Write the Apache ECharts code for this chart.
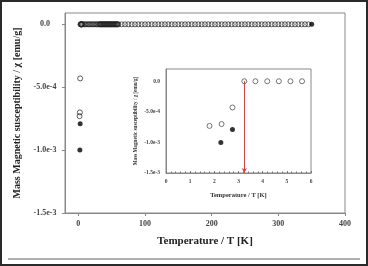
<!DOCTYPE html>
<html><head><meta charset="utf-8">
<script src="https://cdn.jsdelivr.net/npm/echarts@6/dist/echarts.min.js"></script>
<style>html,body{margin:0;padding:0;background:#fff}#c{width:368px;height:266px}</style>
</head><body><div id="c"></div>
<script>
// Low-temperature data (open circles = one run, filled = other run)
const lowTempsOpen = [1.8, 2.3, 2.75, 3.24, 3.7, 4.19, 4.67, 5.15, 5.63];
const lowChiOpen   = [-7.3e-4, -7.0e-4, -4.3e-4, 0, 0, 0, 0, 0, 0];
const filledTemps  = [2.27, 2.75, 350];
const filledChi    = [-1.0e-3, -7.9e-4, 0];
// High-temperature open circles (all at ~0)
const highTemps = [7, 9, 11, 13, 15, 17, 19, 21, 23, 25, 27, 29,
  31, 32, 33, 34, 35, 36, 37, 38, 39, 40, 41, 42, 43, 44, 45, 46, 47, 48, 49, 50,
  51, 52, 53, 54, 55, 56, 57, 58, 59, 60,
  65, 70, 75, 80, 85, 90, 95, 100, 105, 110, 115, 120, 125, 130, 135, 140, 145, 150,
  155, 160, 165, 170, 175, 180, 185, 190, 195, 200, 205, 210, 215, 220, 225, 230, 235,
  240, 245, 250, 255, 260, 265, 270, 275, 280, 285, 290, 295, 300, 305, 310, 315, 320,
  325, 330, 335, 340, 345];
const highChi = [0, 0, 0, 0, 0, 0, 0, 0, 0, 0, 0, 0,
  0, 0, 0, 0, 0, 0, 0, 0, 0, 0, 0, 0, 0, 0, 0, 0, 0, 0, 0, 0,
  0, 0, 0, 0, 0, 0, 0, 0, 0, 0,
  0, 0, 0, 0, 0, 0, 0, 0, 0, 0, 0, 0, 0, 0, 0, 0, 0, 0,
  0, 0, 0, 0, 0, 0, 0, 0, 0, 0, 0, 0, 0, 0, 0, 0, 0,
  0, 0, 0, 0, 0, 0, 0, 0, 0, 0, 0, 0, 0, 0, 0, 0, 0, 0,
  0, 0, 0, 0, 0];
const transitionTemp = 3.24;
const mainXTicks = [0, 100, 200, 300, 400];
const yTicks = [0, -5e-4, -1e-3, -1.5e-3];
const yTickLabels = ['0.0', '-5.0e-4', '-1.0e-3', '-1.5e-3'];
const yLabel = 'Mass Magnetic susceptibility / \u03c7 [emu/g]';
const xLabel = 'Temperature / T [K]';

const pairs = (xs, ys) => xs.map((x, i) => [x, ys[i]]);
const yFmt = v => { const i = yTicks.findIndex(t => Math.abs(t - v) < 1e-9); return i >= 0 ? yTickLabels[i] : ''; };
const FONT = 'Liberation Serif';

const chart = echarts.init(document.getElementById('c'), null, {renderer: 'canvas'});
chart.setOption({
  animation: false,
  backgroundColor: '#fff',
  graphic: [
    {type: 'rect', shape: {x: 1, y: 1, width: 366, height: 264}, style: {fill: 'none', stroke: '#2a2a2a', lineWidth: 2}, z: 100},
    {type: 'rect', shape: {x: 8, y: 258, width: 352, height: 2}, style: {fill: '#b0b0b0'}, z: 100}
  ],
  grid: [
    {left: 65, top: 13, right: 23, bottom: 53, show: true, borderColor: '#888', borderWidth: 1, backgroundColor: '#fff'},
    {left: 166, top: 69, right: 57, bottom: 93, show: true, borderColor: '#888', borderWidth: 1, backgroundColor: '#fff', z: 5}
  ],
  xAxis: [
    {gridIndex: 0, type: 'value', min: -20, max: 400, splitLine: {show: false},
     name: xLabel, nameLocation: 'middle', nameGap: 23,
     nameTextStyle: {fontFamily: FONT, fontWeight: 'bold', fontSize: 11, color: '#222'},
     axisLine: {show: true, onZero: false, lineStyle: {color: '#888'}},
     axisTick: {show: true, length: 3, customValues: mainXTicks, lineStyle: {color: '#888'}},
     axisLabel: {customValues: mainXTicks, fontFamily: FONT, fontWeight: 'bold', fontSize: 8, color: '#444', margin: 7}},
    {gridIndex: 1, type: 'value', min: 0, max: 6, interval: 1, splitLine: {show: false}, z: 6,
     name: xLabel, nameLocation: 'middle', nameGap: 19,
     nameTextStyle: {fontFamily: FONT, fontWeight: 'bold', fontSize: 6.5, color: '#333'},
     axisLine: {show: true, onZero: false, lineStyle: {color: '#888'}},
     axisTick: {show: true, inside: true, length: 2, lineStyle: {color: '#777'}},
     minorTick: {show: true, splitNumber: 5, length: 1.5, lineStyle: {color: '#777'}},
     axisLabel: {fontFamily: FONT, fontWeight: 'bold', fontSize: 5.5, color: '#444', margin: 6}}
  ],
  yAxis: [
    {gridIndex: 0, type: 'value', min: -1.5e-3, max: 0.9e-4, splitLine: {show: false},
     name: yLabel, nameLocation: 'middle', nameGap: 35, nameRotate: 90,
     nameTextStyle: {fontFamily: FONT, fontWeight: 'bold', fontSize: 10, color: '#222'},
     axisLine: {show: true, onZero: false, lineStyle: {color: '#888'}},
     axisTick: {show: true, length: 3, customValues: yTicks, lineStyle: {color: '#888'}},
     axisLabel: {customValues: yTicks, formatter: yFmt, align: 'center', fontFamily: FONT, fontWeight: 'bold', fontSize: 8, color: '#444', margin: 20}},
    {gridIndex: 1, type: 'value', min: -1.5e-3, max: 2e-4, splitLine: {show: false}, z: 6,
     name: yLabel, nameLocation: 'middle', nameGap: 28, nameRotate: 90,
     nameTextStyle: {fontFamily: FONT, fontWeight: 'bold', fontSize: 5.2, color: '#333'},
     axisLine: {show: true, onZero: false, lineStyle: {color: '#888'}},
     axisTick: {show: false, customValues: yTicks},
     axisLabel: {customValues: yTicks, formatter: yFmt, fontFamily: FONT, fontWeight: 'bold', fontSize: 5.5, color: '#444', margin: 6}}
  ],
  series: [
    {type: 'scatter', xAxisIndex: 0, yAxisIndex: 0, symbol: 'circle', symbolSize: 5,
     itemStyle: {color: 'rgba(0,0,0,0)', borderColor: '#222', borderWidth: 0.9},
     data: pairs(lowTempsOpen.concat(highTemps), lowChiOpen.concat(highChi))},
    {type: 'scatter', xAxisIndex: 0, yAxisIndex: 0, symbol: 'circle', symbolSize: 5,
     itemStyle: {color: '#000'}, data: pairs(filledTemps, filledChi)},
    {type: 'scatter', xAxisIndex: 1, yAxisIndex: 1, symbol: 'circle', symbolSize: 5, z: 7,
     itemStyle: {color: 'rgba(0,0,0,0)', borderColor: '#555', borderWidth: 1},
     data: pairs(lowTempsOpen, lowChiOpen),
     markLine: {silent: true, symbol: ['none', 'arrow'], symbolSize: [4, 5], label: {show: false},
       lineStyle: {color: '#d04545', width: 1, type: 'solid'},
       data: [[{coord: [transitionTemp, 0]}, {coord: [transitionTemp, -1.5e-3]}]]}},
    {type: 'scatter', xAxisIndex: 1, yAxisIndex: 1, symbol: 'circle', symbolSize: 5, z: 7,
     itemStyle: {color: '#000'}, data: pairs(filledTemps, filledChi)}
  ]
});
</script></body></html>
